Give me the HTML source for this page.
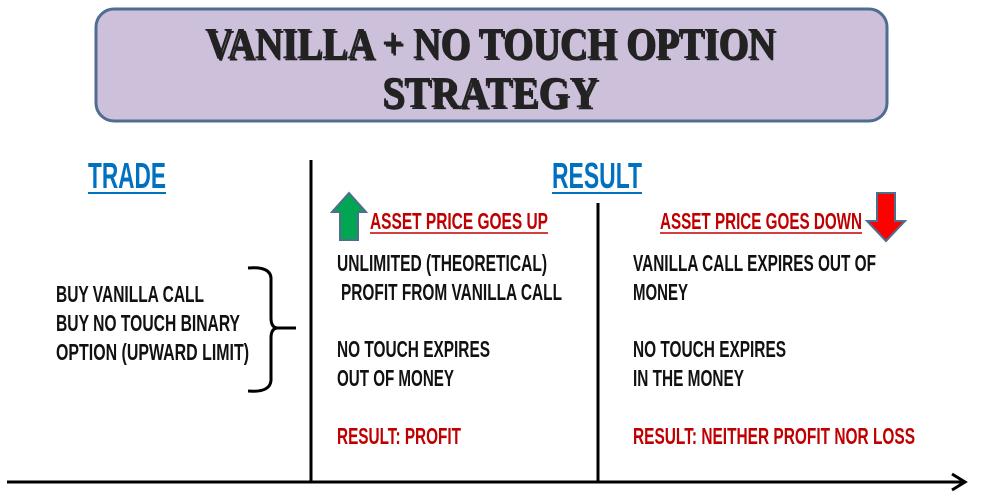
<!DOCTYPE html>
<html><head><meta charset="utf-8"><style>
html,body{margin:0;padding:0;background:#fff;}
svg{display:block;}
.t{font-family:"Liberation Sans Narrow","Liberation Sans",sans-serif;font-weight:bold;font-size:23px;fill:#111;}
.r{fill:#c00000;}
.h{font-family:"Liberation Serif",serif;font-weight:bold;font-size:44px;fill:#222;}
.b{font-family:"Liberation Sans Narrow","Liberation Sans",sans-serif;font-weight:bold;font-size:36px;fill:#0070c0;}
</style></head><body>
<svg width="986" height="503" viewBox="0 0 986 503" xmlns="http://www.w3.org/2000/svg">
<rect x="96" y="9" width="791" height="112" rx="18" fill="#ccc0da" stroke="#4f6d8f" stroke-width="3"/>
<text class="h" x="205" y="58" textLength="570" lengthAdjust="spacingAndGlyphs" fill="#888" transform="translate(2,2)">VANILLA + NO TOUCH OPTION</text>
<text class="h" x="205" y="58" textLength="570" lengthAdjust="spacingAndGlyphs">VANILLA + NO TOUCH OPTION</text>
<text class="h" x="382" y="107" textLength="216" lengthAdjust="spacingAndGlyphs" fill="#888" transform="translate(2,2)">STRATEGY</text>
<text class="h" x="382" y="107" textLength="216" lengthAdjust="spacingAndGlyphs">STRATEGY</text>

<text class="b" x="88" y="188" textLength="78" lengthAdjust="spacingAndGlyphs">TRADE</text>
<line x1="88" y1="193" x2="166" y2="193" stroke="#0070c0" stroke-width="2"/>
<text class="b" x="552" y="188" textLength="90" lengthAdjust="spacingAndGlyphs">RESULT</text>
<line x1="552" y1="193" x2="642" y2="193" stroke="#0070c0" stroke-width="2"/>

<line x1="311" y1="160" x2="311" y2="482" stroke="#000" stroke-width="3"/>
<line x1="598" y1="203" x2="598" y2="482" stroke="#000" stroke-width="3"/>
<line x1="7" y1="482" x2="962" y2="482" stroke="#000" stroke-width="3"/>
<path d="M952 474 L965 482 L952 490" fill="none" stroke="#000" stroke-width="3"/>

<path d="M248 268 Q272 266 271 280 L271 318 Q271 328 278 328 L296 328 M278 328 Q271 328 271 338 L271 378 Q272 393 248 391" fill="none" stroke="#000" stroke-width="3"/>

<text class="t" x="56" y="302" textLength="148" lengthAdjust="spacingAndGlyphs">BUY VANILLA CALL</text>
<text class="t" x="56" y="331" textLength="184" lengthAdjust="spacingAndGlyphs">BUY NO TOUCH BINARY</text>
<text class="t" x="56" y="360" textLength="193" lengthAdjust="spacingAndGlyphs">OPTION (UPWARD LIMIT)</text>

<polygon points="349,193 366,212 358,212 358,240 340,240 340,212 332,212" fill="#00a651" stroke="#4f6d8f" stroke-width="2"/>
<text class="t r" x="370" y="229" textLength="178" lengthAdjust="spacingAndGlyphs">ASSET PRICE GOES UP</text>
<line x1="370" y1="233" x2="548" y2="233" stroke="#c00000" stroke-width="1.5"/>
<polygon points="877,193 895,193 895,221 905,221 886,241 867,221 877,221" fill="#ff0000" stroke="#4f6d8f" stroke-width="2"/>
<text class="t r" x="660" y="229" textLength="202" lengthAdjust="spacingAndGlyphs">ASSET PRICE GOES DOWN</text>
<line x1="660" y1="233" x2="862" y2="233" stroke="#c00000" stroke-width="1.5"/>

<text class="t" x="337" y="271" textLength="210" lengthAdjust="spacingAndGlyphs">UNLIMITED (THEORETICAL)</text>
<text class="t" x="341" y="300" textLength="221" lengthAdjust="spacingAndGlyphs">PROFIT FROM VANILLA CALL</text>
<text class="t" x="337" y="357" textLength="153" lengthAdjust="spacingAndGlyphs">NO TOUCH EXPIRES</text>
<text class="t" x="337" y="386" textLength="117" lengthAdjust="spacingAndGlyphs">OUT OF MONEY</text>
<text class="t r" x="337" y="444" textLength="124" lengthAdjust="spacingAndGlyphs">RESULT: PROFIT</text>

<text class="t" x="633" y="271" textLength="243" lengthAdjust="spacingAndGlyphs">VANILLA CALL EXPIRES OUT OF</text>
<text class="t" x="633" y="300" textLength="55" lengthAdjust="spacingAndGlyphs">MONEY</text>
<text class="t" x="633" y="357" textLength="153" lengthAdjust="spacingAndGlyphs">NO TOUCH EXPIRES</text>
<text class="t" x="633" y="386" textLength="111" lengthAdjust="spacingAndGlyphs">IN THE MONEY</text>
<text class="t r" x="633" y="444" textLength="282" lengthAdjust="spacingAndGlyphs">RESULT: NEITHER PROFIT NOR LOSS</text>
</svg>
</body></html>
